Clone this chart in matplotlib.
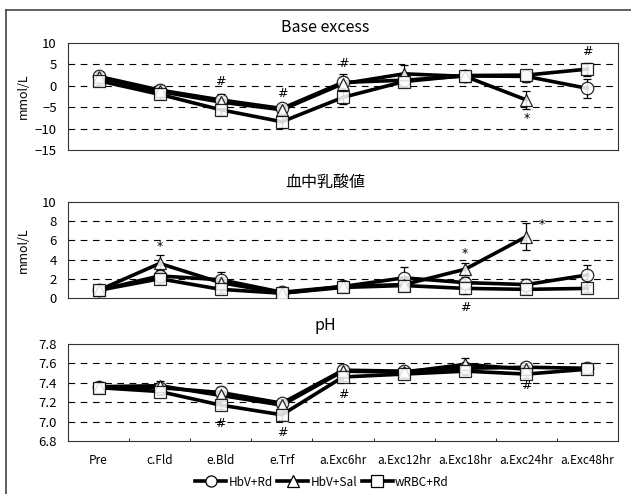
import numpy as np
import matplotlib
matplotlib.use("Agg")
import matplotlib.pyplot as plt
from matplotlib.lines import Line2D

plt.rcParams['font.family'] = ['Noto Sans CJK JP', 'DejaVu Sans']

categories = ["Pre", "c.Fld", "e.Bld", "e.Trf", "a.Exc6hr", "a.Exc12hr",
              "a.Exc18hr", "a.Exc24hr", "a.Exc48hr"]
series_names = ["HbV+Rd", "HbV+Sal", "wRBC+Rd"]
markers = ["o", "^", "s"]
nan = np.nan

# Base excess (mmol/L)
be_hbv_rd = [2.2, -1.0, -3.3, -5.3, 0.8, 1.3, 2.3, 2.2, -0.6]
be_hbv_sal = [2.0, -1.3, -3.8, -5.6, 0.5, 2.8, 2.2, -3.3, nan]
be_wrbc_rd = [1.2, -2.0, -5.6, -8.4, -2.7, 1.0, 2.4, 2.5, 3.9]
be_hbv_rd_err = [1.0, 1.2, 1.5, 1.0, 2.0, 1.5, 1.0, 1.2, 2.3]
be_hbv_sal_err = [1.0, 1.0, 1.5, 1.2, 1.5, 2.0, 1.0, 2.1, nan]
be_wrbc_rd_err = [1.0, 1.0, 1.2, 1.5, 1.5, 1.2, 1.0, 1.0, 1.5]

# Blood lactate (mmol/L)
lac_hbv_rd = [0.8, 2.3, 1.9, 0.6, 1.2, 2.1, 1.6, 1.4, 2.4]
lac_hbv_sal = [0.8, 3.6, 1.6, 0.5, 1.2, 1.4, 3.0, 6.4, nan]
lac_wrbc_rd = [0.8, 2.0, 0.9, 0.5, 1.1, 1.3, 1.0, 0.9, 1.0]
lac_hbv_rd_err = [0.3, 0.6, 0.8, 0.3, 0.4, 1.1, 0.6, 0.6, 1.0]
lac_hbv_sal_err = [0.3, 0.9, 0.6, 0.3, 0.4, 0.5, 0.6, 1.4, nan]
lac_wrbc_rd_err = [0.3, 0.5, 0.4, 0.3, 0.3, 0.4, 0.6, 0.5, 0.4]

# Arterial pH
ph_hbv_rd = [7.36, 7.35, 7.30, 7.19, 7.53, 7.52, 7.55, 7.56, 7.55]
ph_hbv_sal = [7.36, 7.37, 7.27, 7.17, 7.52, 7.51, 7.59, 7.54, nan]
ph_wrbc_rd = [7.35, 7.31, 7.17, 7.07, 7.46, 7.49, 7.52, 7.49, 7.54]
ph_hbv_rd_err = [0.04, 0.04, 0.06, 0.04, 0.04, 0.04, 0.04, 0.04, 0.04]
ph_hbv_sal_err = [0.04, 0.05, 0.05, 0.04, 0.05, 0.04, 0.07, 0.04, nan]
ph_wrbc_rd_err = [0.04, 0.04, 0.04, 0.05, 0.04, 0.04, 0.04, 0.04, 0.04]

# Significance marks: (category index, y value, symbol)
be_marks = [(2, 1.0, "#"), (3, -1.8, "#"), (4, 5.2, "#"), (7, -7.6, "*"), (8, 8.0, "#")]
lac_marks = [(1, 5.4, "*"), (6, 4.6, "*"), (6, -1.0, "#"), (7.25, 7.7, "*")]
ph_marks = [(2, 6.98, "#"), (3, 6.89, "#"), (4, 7.28, "#"), (7, 7.37, "#")]

W, H = 631, 494
fig = plt.figure(figsize=(W / 100, H / 100), dpi=100)


def px_axes(left, top, right, bottom):
    return fig.add_axes([left / W, 1 - bottom / H, (right - left) / W, (bottom - top) / H])


def int_label(v):
    return f"{v:g}".replace("-", "\u2212")


def one_decimal(v):
    return f"{v:.1f}"


panels = [
    dict(box=(68, 43, 618, 150), title="Base excess", title_y=28, ylim=(-15, 10),
         ticks=[-15, -10, -5, 0, 5, 10], fmt=int_label, ylabel="mmol/L",
         data=[be_hbv_rd, be_hbv_sal, be_wrbc_rd],
         err=[be_hbv_rd_err, be_hbv_sal_err, be_wrbc_rd_err], marks=be_marks),
    dict(box=(68, 202, 618, 298), title="血中乳酸値", title_y=182, ylim=(0, 10),
         ticks=[0, 2, 4, 6, 8, 10], fmt=int_label, ylabel="mmol/L",
         data=[lac_hbv_rd, lac_hbv_sal, lac_wrbc_rd],
         err=[lac_hbv_rd_err, lac_hbv_sal_err, lac_wrbc_rd_err], marks=lac_marks),
    dict(box=(68, 344, 618, 441), title="pH", title_y=325, ylim=(6.8, 7.8),
         ticks=[6.8, 7.0, 7.2, 7.4, 7.6, 7.8], fmt=one_decimal, ylabel=None,
         data=[ph_hbv_rd, ph_hbv_sal, ph_wrbc_rd],
         err=[ph_hbv_rd_err, ph_hbv_sal_err, ph_wrbc_rd_err], marks=ph_marks),
]

x = np.arange(len(categories))
for i, p in enumerate(panels):
    ax = px_axes(*p["box"])
    ax.set_xlim(-0.5, len(categories) - 0.5)
    ax.set_ylim(*p["ylim"])
    for t in p["ticks"][1:-1]:
        ax.axhline(t, color="black", lw=0.8, ls=(0, (6, 5)), zorder=1)
    for vals, errs, m in zip(p["data"], p["err"], markers):
        ax.plot(x, vals, color="black", lw=2.6, zorder=3, solid_joinstyle="round")
        ax.errorbar(x, vals, yerr=errs, fmt="none", ecolor="black", elinewidth=0.9,
                    capsize=3, capthick=0.9, zorder=4)
        ax.plot(x, vals, ls="none", marker=m, ms=9, mfc="white", mec="black",
                mew=0.9, zorder=5, alpha=0.85)
    for cx, cy, s in p["marks"]:
        ax.text(cx, cy, s, ha="center", va="center", fontsize=9,
                family=["DejaVu Sans"], clip_on=False)
    ax.set_yticks(p["ticks"])
    ax.set_yticklabels([p["fmt"](t) for t in p["ticks"]], fontsize=9.5)
    ax.tick_params(axis="y", length=0, pad=8)
    for sp in ax.spines.values():
        sp.set_linewidth(0.8)
        sp.set_color("#333333")
    if i == 2:
        ax.set_xticks(x)
        ax.set_xticklabels(categories, fontsize=8.5)
        ax.tick_params(axis="x", length=0, pad=9)
        ax.set_xticks(np.arange(0.5, len(categories) - 1, 1.0), minor=True)
        ax.tick_params(axis="x", which="minor", direction="in", length=2, width=0.6)
    else:
        ax.set_xticks([])
    fig.text(325 / W, 1 - p["title_y"] / H, p["title"], ha="center", va="center",
             fontsize=11.5)
    if p["ylabel"]:
        fig.text(23 / W, 1 - (p["box"][1] + p["box"][3]) / 2 / H, p["ylabel"],
                 rotation=90, ha="center", va="center", fontsize=9)

handles = [Line2D([0], [0], color="black", lw=2.6, marker=m, ms=8, mfc="white",
                  mec="black", mew=0.9) for m in markers]
fig.legend(handles, series_names, loc="center", bbox_to_anchor=(322 / W, 1 - 482 / H),
           ncol=3, frameon=False, fontsize=8.5, handlelength=2.6, handletextpad=0.2,
           columnspacing=0.4)

# outer frame (left and top edges)
fig.add_artist(Line2D([6 / W, 6 / W], [0, 1 - 10 / H], color="#444444", lw=1.2))
fig.add_artist(Line2D([6 / W, 1], [1 - 10 / H, 1 - 10 / H], color="#444444", lw=1.2))

fig.savefig("out.png", dpi=100)
